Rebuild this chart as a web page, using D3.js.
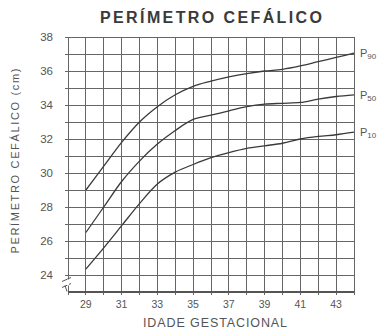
<!DOCTYPE html>
<html>
<head>
<meta charset="utf-8">
<script src="https://cdn.jsdelivr.net/npm/d3@7"></script>
<style>
  body { margin: 0; background: #fff; }
  svg { display: block; font-family: 'Liberation Sans', Arial, sans-serif; }
  .lbl { fill: #555; }
</style>
</head>
<body>
<div id="chart"></div>
<script>
var width = 380;
var height = 331;

// gestational weeks and head circumference percentiles (cm)
var weeks = [29, 30, 31, 32, 33, 34, 35, 36, 37, 38, 39, 40, 41, 42, 43, 44];
var p90 = [29.0, 30.4, 31.8, 33.0, 33.9, 34.6, 35.1, 35.4, 35.65, 35.85, 36.0, 36.1, 36.3, 36.55, 36.8, 37.05];
var p50 = [26.5, 28.0, 29.5, 30.7, 31.7, 32.5, 33.15, 33.4, 33.65, 33.9, 34.05, 34.1, 34.15, 34.35, 34.5, 34.6];
var p10 = [24.35, 25.6, 26.9, 28.2, 29.35, 30.05, 30.5, 30.9, 31.2, 31.45, 31.6, 31.75, 32.0, 32.15, 32.25, 32.4];
var seriesNames = ['90', '50', '10'];
var xTickLabels = [29, 31, 33, 35, 37, 39, 41, 43];
var yTickLabels = [24, 26, 28, 30, 32, 34, 36, 38];
var gridWeeks = d3.range(28, 45);
var gridCm = d3.range(24, 39);

var x = d3.scaleLinear().domain([28, 44]).range([68, 354]);
var y = d3.scaleLinear().domain([23, 38]).range([292, 37]);

var svg = d3.select('#chart').append('svg')
  .attr('width', width)
  .attr('height', height);

// grid
var grid = svg.append('g')
  .attr('stroke', '#666')
  .attr('stroke-width', 1)
  .attr('shape-rendering', 'crispEdges');

grid.selectAll('.v')
  .data(gridWeeks)
  .enter().append('line')
  .attr('x1', function(d) { return x(d); })
  .attr('x2', function(d) { return x(d); })
  .attr('y1', y(38))
  .attr('y2', y(23) + 3);

grid.selectAll('.h')
  .data(gridCm)
  .enter().append('line')
  .attr('x1', x(28) - 3)
  .attr('x2', x(44))
  .attr('y1', function(d) { return y(d); })
  .attr('y2', function(d) { return y(d); });

// bottom axis line
grid.append('line')
  .attr('x1', x(28))
  .attr('x2', x(44))
  .attr('y1', y(23))
  .attr('y2', y(23))
  .attr('stroke', '#555')
  .attr('stroke-width', 1.5);

// axis break mark
var bx = x(28), by = (y(24) + y(23)) / 2;
svg.append('path')
  .attr('d', 'M' + (bx - 6) + ',' + (by - 2) + 'L' + (bx + 3) + ',' + (by - 6) +
    'M' + (bx - 6) + ',' + (by + 4) + 'L' + (bx + 3) + ',' + (by) +
    'M' + (bx - 3) + ',' + (by + 2) + 'L' + (bx - 1) + ',' + (by + 8))
  .attr('fill', 'none')
  .attr('stroke', '#555')
  .attr('stroke-width', 1);
svg.append('rect')
  .attr('x', bx - 1).attr('y', by - 4).attr('width', 2).attr('height', 6)
  .attr('fill', '#fff');

// tick labels
svg.append('g').selectAll('text')
  .data(xTickLabels)
  .enter().append('text')
  .attr('class', 'lbl')
  .attr('x', function(d) { return x(d); })
  .attr('y', 308)
  .attr('text-anchor', 'middle')
  .attr('font-size', 10.5)
  .text(function(d) { return d; });

svg.append('g').selectAll('text')
  .data(yTickLabels)
  .enter().append('text')
  .attr('class', 'lbl')
  .attr('x', 53)
  .attr('y', function(d) { return y(d) + 4; })
  .attr('text-anchor', 'end')
  .attr('font-size', 11.5)
  .text(function(d) { return d; });

// curves
var line = d3.line()
  .x(function(d) { return x(d[0]); })
  .y(function(d) { return y(d[1]); })
  .curve(d3.curveMonotoneX);

[p90, p50, p10].forEach(function(vals, i) {
  var pts = weeks.map(function(w, j) { return [w, vals[j]]; });
  svg.append('path')
    .datum(pts)
    .attr('d', line)
    .attr('fill', 'none')
    .attr('stroke', '#3a3a3a')
    .attr('stroke-width', 1.3);

  var last = pts[pts.length - 1];
  var t = svg.append('text')
    .attr('class', 'lbl')
    .attr('x', x(44) + 6)
    .attr('y', y(last[1]) + 4)
    .attr('font-size', 11)
    .text('P');
  t.append('tspan')
    .attr('font-size', 8)
    .attr('dy', 2)
    .text(seriesNames[i]);
});

// titles
svg.append('text')
  .attr('x', 211)
  .attr('y', 23)
  .attr('text-anchor', 'middle')
  .attr('font-size', 16)
  .attr('font-weight', 'bold')
  .attr('fill', '#3a3a3a')
  .attr('textLength', 222)
  .attr('lengthAdjust', 'spacing')
  .text('PERÍMETRO  CEFÁLICO');

svg.append('text')
  .attr('class', 'lbl')
  .attr('x', 215)
  .attr('y', 327)
  .attr('text-anchor', 'middle')
  .attr('font-size', 12.5)
  .attr('textLength', 144)
  .attr('lengthAdjust', 'spacing')
  .text('IDADE GESTACIONAL');

svg.append('text')
  .attr('class', 'lbl')
  .attr('transform', 'translate(19,161) rotate(-90)')
  .attr('text-anchor', 'middle')
  .attr('font-size', 11)
  .attr('textLength', 185)
  .attr('lengthAdjust', 'spacing')
  .text('PERÍMETRO CEFÁLICO (cm)');
</script>
</body>
</html>
